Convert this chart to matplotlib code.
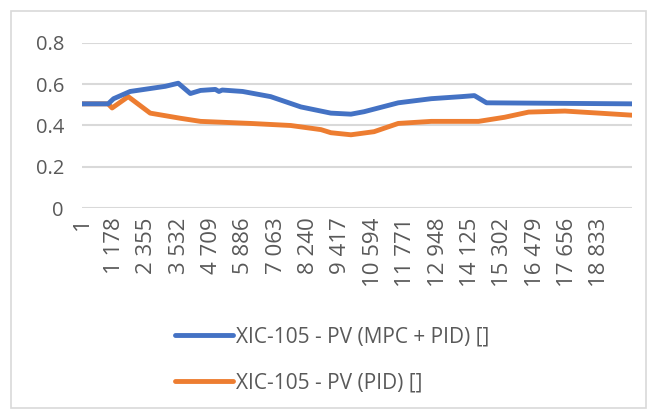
import matplotlib
matplotlib.use("Agg")
import matplotlib.pyplot as plt
from matplotlib.patches import Rectangle

# sample index (0-based) and value at the visible turning points of each trace
mpc_index = [0, 950, 1150, 1750, 3030, 3500, 3940, 4310, 4850, 4980, 5100,
             5840, 6860, 7960, 9050, 9780, 10260, 11500, 12700, 13800,
             14270, 14710, 20000]
mpc_value = [0.505, 0.505, 0.53, 0.565, 0.59, 0.605, 0.555, 0.57, 0.575,
             0.565, 0.572, 0.565, 0.54, 0.49, 0.46, 0.455, 0.467, 0.51, 0.53,
             0.54, 0.545, 0.51, 0.505]

pid_index = [0, 950, 1095, 1680, 2480, 3580, 4310, 6130, 7590, 8690, 9050,
             9780, 10620, 11500, 12700, 14420, 15370, 16240, 17560, 18800,
             20000]
pid_value = [0.505, 0.505, 0.485, 0.54, 0.46, 0.435, 0.42, 0.41, 0.40, 0.38,
             0.365, 0.355, 0.37, 0.41, 0.42, 0.42, 0.44, 0.465, 0.47, 0.46,
             0.45]

series_labels = ["XIC-105 - PV (MPC + PID) []", "XIC-105 - PV (PID) []"]
n_samples = 20000
tick_step = 1177
y_ticks = [0, 0.2, 0.4, 0.6, 0.8]

blue = "#4472C4"
orange = "#ED7D31"
grid_gray = "#D9D9D9"
text_gray = "#595959"

plt.rcParams["font.family"] = ["Open Sans", "DejaVu Sans"]

W, H = 659, 411
fig = plt.figure(figsize=(W / 100, H / 100), dpi=100)
fig.patches.append(Rectangle((11 / W, 3 / H), 635 / W, 397 / H,
                             transform=fig.transFigure, fill=False,
                             edgecolor=grid_gray, linewidth=1.2))

ax = fig.add_axes([82 / W, (H - 208) / H, 550 / W, 165 / H])
ax.plot(pid_index, pid_value, color=orange, linewidth=3.5, solid_capstyle="round",
        solid_joinstyle="round", label=series_labels[1], zorder=3)
ax.plot(mpc_index, mpc_value, color=blue, linewidth=3.5, solid_capstyle="round",
        solid_joinstyle="round", label=series_labels[0], zorder=3)

ax.set_xlim(0, n_samples)
ax.set_ylim(0, 0.8)
ax.set_yticks(y_ticks)
ax.set_yticklabels(["0" if v == 0 else f"{v:g}" for v in y_ticks])

x_ticks = list(range(0, n_samples - tick_step // 2, tick_step))
ax.set_xticks(x_ticks)
ax.set_xticklabels([f"{i + 1:,}".replace(",", " ") for i in x_ticks], rotation=90)

ax.grid(axis="y", color=grid_gray, linewidth=1.5)
ax.set_axisbelow(True)
for spine in ax.spines.values():
    spine.set_visible(False)
ax.tick_params(axis="both", length=0, labelcolor=text_gray)
ax.tick_params(axis="y", pad=13, labelsize=14.5)
ax.tick_params(axis="x", pad=7, labelsize=16)

handles, labels = ax.get_legend_handles_labels()
fig.legend(handles[::-1], labels[::-1], loc="upper left",
           bbox_to_anchor=(156 / W, 1 - 308 / H), frameon=False,
           fontsize=15, labelcolor=text_gray, handlelength=2.8,
           handletextpad=0.15, labelspacing=1.2)

fig.savefig("out.png", dpi=100)
